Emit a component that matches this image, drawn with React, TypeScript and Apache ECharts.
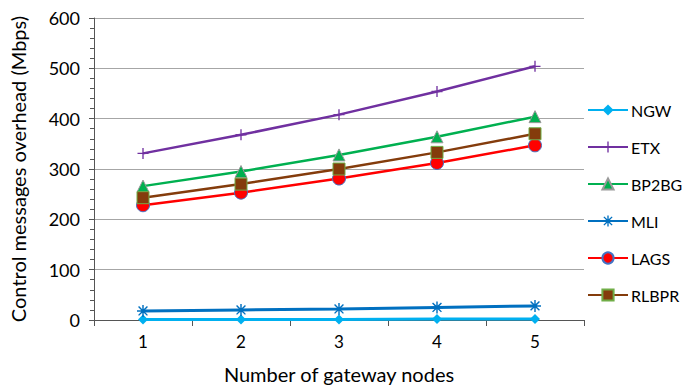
import React, { useEffect, useRef } from "react";
import * as echarts from "echarts";

const categories = ["1", "2", "3", "4", "5"];
const ngw = [1, 1, 1, 2, 2];
const etx = [331, 368, 408, 454, 504];
const bp2bg = [266, 295, 328, 364, 404];
const mli = [18, 20, 22, 25, 28];
const lags = [228, 253, 281, 312, 347];
const rlbpr = [243, 270, 300, 333, 370];

const FONT = "Lato";

export default function App() {
  const ref = useRef<HTMLDivElement>(null);
  useEffect(() => {
    if (!ref.current) return;
    const chart = echarts.init(ref.current, undefined, { renderer: "svg" });
    const plus = "path://M-0.6,-5H0.6V-0.6H5V0.6H0.6V5H-0.6V0.6H-5V-0.6H-0.6Z";
    const star = "path://M-0.6,-5H0.6V-1.5L3.3,-4.1L4.1,-3.3L1.5,-0.6H5V0.6H1.5L4.1,3.3L3.3,4.1L0.6,1.5V5H-0.6V1.5L-3.3,4.1L-4.1,3.3L-1.5,0.6H-5V-0.6H-1.5L-4.1,-3.3L-3.3,-4.1L-0.6,-1.5Z";
    const mk = (name: string, data: number[], color: string, symbol: string, size: number, lw: number, itemStyle: any = {}) => ({
      name,
      type: "line",
      data,
      symbol,
      symbolSize: size,
      lineStyle: { color, width: lw },
      itemStyle: { color, ...itemStyle },
      z: 2,
    });
    chart.setOption({
      animation: false,
      textStyle: { fontFamily: FONT },
      grid: { left: 85, right: 98, top: 18, bottom: 68 },
      legend: {
        orient: "vertical",
        left: 582,
        top: 97,
        itemWidth: 40,
        itemHeight: 14,
        itemGap: 21,
        textStyle: { fontFamily: FONT, fontSize: 16, color: "#000", padding: [0, 0, 0, -2] },
        data: ["NGW", "ETX", "BP2BG", "MLI", "LAGS", "RLBPR"],
      },
      xAxis: {
        type: "category",
        data: categories,
        boundaryGap: true,
        name: "Number of gateway nodes",
        nameLocation: "middle",
        nameGap: 44,
        nameTextStyle: { fontFamily: FONT, fontSize: 20, color: "#000" },
        axisLine: { lineStyle: { color: "#555", width: 1 } },
        axisTick: { show: true, length: 6, lineStyle: { color: "#555" } },
        axisLabel: { fontFamily: FONT, fontSize: 17, color: "#000", margin: 13 },
      },
      yAxis: {
        type: "value",
        min: 0,
        max: 600,
        interval: 100,
        name: "Control messages overhead (Mbps)",
        nameLocation: "middle",
        nameGap: 66,
        nameTextStyle: { fontFamily: FONT, fontSize: 20, color: "#000" },
        axisLine: { show: true, lineStyle: { color: "#555", width: 1 } },
        axisTick: { show: true, length: 5, lineStyle: { color: "#555" } },
        minorTick: { show: true, splitNumber: 5, length: 4, lineStyle: { color: "#555" } },
        splitLine: { lineStyle: { color: "#A6A6A6", width: 1.2 } },
        axisLabel: { fontFamily: FONT, fontSize: 18, color: "#000", margin: 14 },
      },
      series: [
        mk("NGW", ngw, "#00B0F0", "diamond", 10, 3),
        mk("ETX", etx, "#7030A0", plus, 11, 2.5),
        mk("BP2BG", bp2bg, "#00B050", "triangle", 12, 2.5, { borderColor: "#9a9a9a", borderWidth: 1 }),
        mk("MLI", mli, "#0070C0", star, 12, 3),
        mk("LAGS", lags, "#FF0000", "circle", 13, 2.5, { borderColor: "#4472C4", borderWidth: 1 }),
        mk("RLBPR", rlbpr, "#843C0C", "rect", 12, 2.5, { borderColor: "#70AD47", borderWidth: 1 }),
      ],
    });
    return () => chart.dispose();
  }, []);
  return <div ref={ref} style={{ width: 682, height: 389, position: "absolute", left: 0, top: 0, background: "#fff" }} />;
}
